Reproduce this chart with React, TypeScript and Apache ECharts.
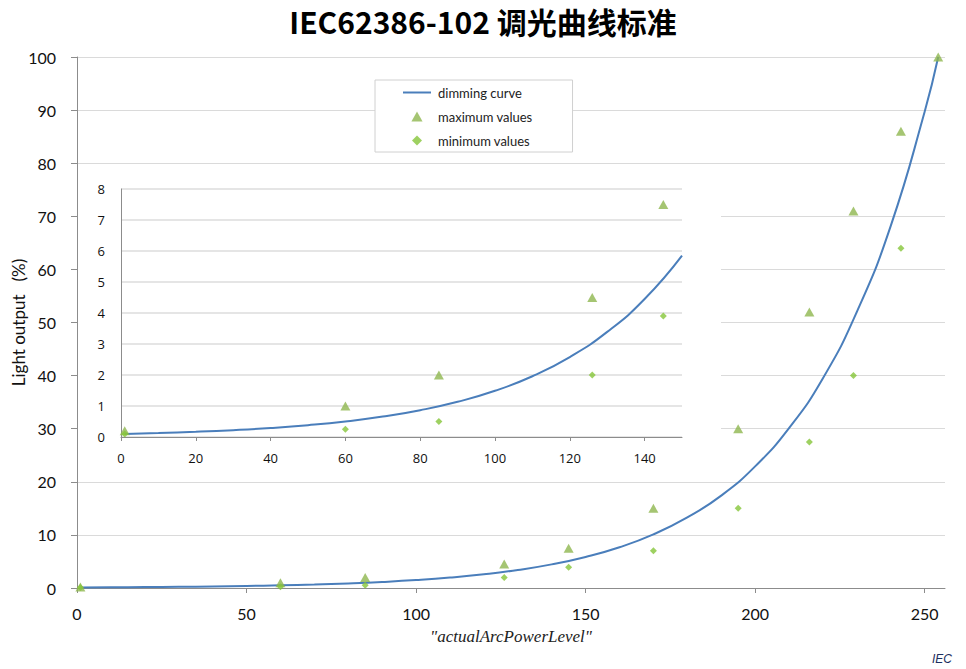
import React, { useEffect, useRef } from "react";
import * as echarts from "echarts";

// Dimming curve
const curveLevels = [1, 10, 20, 30, 40, 50, 60, 70, 80, 90, 100, 110, 120, 130, 140, 150, 160, 170, 180, 190, 200, 210, 220, 230, 240, 250, 254];
const curveValues = [0.1, 0.128, 0.168, 0.221, 0.29, 0.381, 0.5, 0.658, 0.865, 1.136, 1.49, 1.96, 2.58, 3.39, 4.45, 5.85, 7.68, 10.1, 13.3, 17.4, 22.9, 30.1, 39.5, 52.0, 68.2, 89.7, 100];

// Tolerance points
const maxLevels = [1, 60, 85, 126, 145, 170, 195, 216, 229, 243, 254];
const maxValues = [0.2, 1, 2, 4.5, 7.5, 15, 30, 52, 71, 86, 100];
const minLevels = [1, 60, 85, 126, 145, 170, 195, 216, 229, 243];
const minValues = [0.1, 0.25, 0.5, 2, 3.9, 7, 15, 27.5, 40, 64];

// Axis ticks
const mainXTicks = [0, 50, 100, 150, 200, 250];
const insetXTicks = [0, 20, 40, 60, 80, 100, 120, 140];
const insetXMax = 150;
const insetYMax = 8;

const LINE_COLOR = "#4a7ebb";
const TRI_COLOR = "#8fb74f";
const DIA_COLOR = "#86c63a";
const TRI_PATH = "path://M5,0 L10,9 L0,9 Z";
const DIA_PATH = "path://M5,0 L10,5 L5,10 L0,5 Z";
const LINE_PATH = "path://M0,0 L28,0 L28,2 L0,2 Z";

export default function App() {
  const ref = useRef<HTMLDivElement>(null);
  useEffect(() => {
    if (!ref.current) return;
    document.body.style.margin = "0";
    const chart = echarts.init(ref.current, null, { renderer: "svg" });
    const pair = (xs: number[], ys: number[]) => xs.map((x, i) => [x, ys[i]]);
    const curve = pair(curveLevels, curveValues);
    const insetCurve = curve.filter((p) => p[0] <= insetXMax);
    const maxPts = pair(maxLevels, maxValues);
    const minPts = pair(minLevels, minValues);
    const insetMax = maxPts.filter((p) => p[0] <= insetXMax && p[1] <= insetYMax);
    const insetMin = minPts.filter((p) => p[0] <= insetXMax && p[1] <= insetYMax);

    const mainFont = "Lato, 'Open Sans', sans-serif";
    const insetFont = "'Open Sans', sans-serif";

    chart.setOption({
      animation: false,
      backgroundColor: "#ffffff",
      title: {
        text: "IEC62386-102 调光曲线标准",
        left: "center",
        top: 1,
        textStyle: {
          fontFamily: "'Noto Sans CJK SC', sans-serif",
          fontSize: 30,
          fontWeight: "bold",
          color: "#000",
        },
      },
      legend: {
        orient: "vertical",
        left: 375,
        top: 80,
        padding: [6, 40, 5, 28],
        itemGap: 11,
        itemWidth: 28,
        itemHeight: 10,
        backgroundColor: "#fff",
        borderColor: "#d0d0d0",
        borderWidth: 1,
        borderRadius: 0,
        textStyle: { fontFamily: mainFont, fontSize: 13, color: "#222", padding: [0, 0, 0, 2] },
        data: [
          { name: "dimming curve", icon: LINE_PATH },
          { name: "maximum values", icon: TRI_PATH },
          { name: "minimum values", icon: DIA_PATH },
        ],
      },
      grid: [
        { left: 77, top: 57, right: 21, bottom: 81, containLabel: false, outerBoundsMode: "none" },
        { left: 121, top: 189, width: 561, height: 248, containLabel: false, outerBoundsMode: "none", z: 11 },
      ],
      xAxis: [
        {
          type: "value",
          gridIndex: 0,
          min: 0,
          max: 256,
          name: '"actualArcPowerLevel"',
          nameLocation: "middle",
          nameGap: 40,
          nameTextStyle: {
            fontFamily: "'Liberation Serif', serif",
            fontStyle: "italic",
            fontSize: 17,
            color: "#222",
          },
          axisLine: { show: true, lineStyle: { color: "#8c8c8c", width: 1 } },
          axisTick: { show: true, length: 5, lineStyle: { color: "#8c8c8c" }, customValues: mainXTicks },
          axisLabel: { margin: 17, fontFamily: mainFont, fontSize: 16, color: "#111", customValues: mainXTicks },
          splitLine: { show: false },
        },
        {
          type: "value",
          gridIndex: 1,
          min: 0,
          max: insetXMax,
          z: 11,
          axisLine: { show: true, lineStyle: { color: "#8c8c8c", width: 1 } },
          axisTick: { show: true, length: 4, lineStyle: { color: "#8c8c8c" }, customValues: insetXTicks },
          axisLabel: { margin: 14, fontFamily: insetFont, fontSize: 13, color: "#111", customValues: insetXTicks },
          splitLine: { show: false },
        },
      ],
      yAxis: [
        {
          type: "value",
          gridIndex: 0,
          min: 0,
          max: 100,
          interval: 10,
          name: "Light output   (%)",
          nameLocation: "middle",
          nameGap: 50,
          nameMoveOverlap: false,
          nameTextStyle: { fontFamily: mainFont, fontSize: 17, color: "#111" },
          axisLine: { show: true, lineStyle: { color: "#8c8c8c", width: 1 } },
          axisTick: { show: true, length: 6, lineStyle: { color: "#8c8c8c" } },
          axisLabel: { margin: 21, fontFamily: mainFont, fontSize: 16, color: "#111" },
          splitLine: { show: true, lineStyle: { color: "#dadada", width: 1 } },
        },
        {
          type: "value",
          gridIndex: 1,
          min: 0,
          max: insetYMax,
          interval: 1,
          z: 11,
          axisLine: { show: true, lineStyle: { color: "#8c8c8c", width: 1 } },
          axisTick: { show: false },
          axisLabel: { margin: 16, fontFamily: insetFont, fontSize: 13, color: "#111" },
          splitLine: { show: true, lineStyle: { color: "#dcdcdc", width: 1.5 } },
        },
      ],
      graphic: {
        elements: [
          {
            type: "rect",
            z: 10,
            shape: { x: 78, y: 175, width: 643, height: 295 },
            style: { fill: "#ffffff" },
            silent: true,
          },
          {
            type: "text",
            right: 14,
            top: 653,
            z: 10,
            style: {
              text: "IEC",
              fontFamily: "'Liberation Sans', sans-serif",
              fontStyle: "italic",
              fontSize: 12,
              fill: "#1c2f5e",
            },
          },
        ],
      },
      series: [
        {
          name: "dimming curve",
          type: "line",
          xAxisIndex: 0,
          yAxisIndex: 0,
          data: curve,
          smooth: true,
          symbol: "none",
          lineStyle: { color: LINE_COLOR, width: 2 },
          itemStyle: { color: LINE_COLOR },
          z: 2,
        },
        {
          name: "maximum values",
          type: "scatter",
          xAxisIndex: 0,
          yAxisIndex: 0,
          data: maxPts,
          symbol: TRI_PATH,
          symbolSize: [10, 9],
          itemStyle: { color: TRI_COLOR },
          z: 3,
        },
        {
          name: "minimum values",
          type: "scatter",
          xAxisIndex: 0,
          yAxisIndex: 0,
          data: minPts,
          symbol: DIA_PATH,
          symbolSize: 7,
          itemStyle: { color: DIA_COLOR },
          z: 3,
        },
        {
          name: "dimming curve",
          type: "line",
          xAxisIndex: 1,
          yAxisIndex: 1,
          data: insetCurve,
          smooth: true,
          symbol: "none",
          lineStyle: { color: LINE_COLOR, width: 2 },
          itemStyle: { color: LINE_COLOR },
          z: 12,
        },
        {
          name: "maximum values",
          type: "scatter",
          xAxisIndex: 1,
          yAxisIndex: 1,
          data: insetMax,
          symbol: TRI_PATH,
          symbolSize: [10, 9],
          itemStyle: { color: TRI_COLOR },
          z: 13,
        },
        {
          name: "minimum values",
          type: "scatter",
          xAxisIndex: 1,
          yAxisIndex: 1,
          data: insetMin,
          symbol: DIA_PATH,
          symbolSize: 7,
          itemStyle: { color: DIA_COLOR },
          z: 13,
        },
      ],
    });
    return () => chart.dispose();
  }, []);
  return (
    <div
      ref={ref}
      style={{ position: "absolute", left: 0, top: 0, width: 966, height: 669 }}
    />
  );
}
